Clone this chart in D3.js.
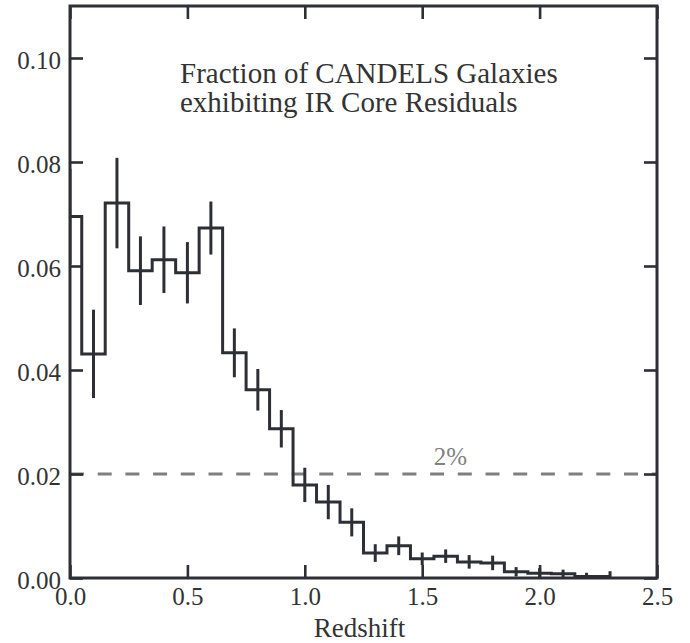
<!DOCTYPE html>
<html>
<head>
<meta charset="utf-8">
<script src="https://cdn.jsdelivr.net/npm/d3@7"></script>
<style>
  html, body { margin: 0; padding: 0; background: #fff; }
  svg { display: block; }
  text { font-family: "Liberation Serif", "Times New Roman", serif; }
</style>
</head>
<body>
<svg id="chart" width="690" height="643"></svg>
<script>
// ---- data ----
const binCenters = [0.0, 0.1, 0.2, 0.3, 0.4, 0.5, 0.6, 0.7, 0.8, 0.9, 1.0, 1.1,
                    1.2, 1.3, 1.4, 1.5, 1.6, 1.7, 1.8, 1.9, 2.0, 2.1, 2.2, 2.3];
const fractions  = [0.0695, 0.0431, 0.0721, 0.0591, 0.0612, 0.0587, 0.0673, 0.0433,
                    0.0362, 0.0287, 0.0179, 0.0146, 0.0107, 0.0048, 0.0062, 0.0037,
                    0.0042, 0.0031, 0.0029, 0.0012, 0.0009, 0.0008, 0.0003, 0.0003];
const errors     = [0.0092, 0.0085, 0.0087, 0.0066, 0.0064, 0.0059, 0.0051, 0.0047,
                    0.0040, 0.0036, 0.0033, 0.0033, 0.0027, 0.0017, 0.0018, 0.0012,
                    0.0013, 0.0013, 0.0014, 0.0009, 0.0010, 0.0008, 0.0007, 0.0010];
const binWidth = 0.1;
const xTicks = [0.0, 0.5, 1.0, 1.5, 2.0, 2.5];
const yTicks = [0.00, 0.02, 0.04, 0.06, 0.08, 0.10];
const thresholdValue = 0.02;
const thresholdLabel = "2%";
const thresholdLabelX = 1.62;
const titleLines = ["Fraction of CANDELS Galaxies", "exhibiting IR Core Residuals"];
const xLabel = "Redshift";

// ---- layout ----
const W = 690, H = 643;
const m = { left: 70, right: 33, top: 6, bottom: 65 };
const iw = W - m.left - m.right, ih = H - m.top - m.bottom;
const ink = "#2c2f36";

const svg = d3.select("#chart");
const g = svg.append("g").attr("transform", `translate(${m.left},${m.top})`);

const x = d3.scaleLinear().domain([0, 2.5]).range([0, iw]);
const y = d3.scaleLinear().domain([0, 0.11]).range([ih, 0]);

svg.append("defs").append("clipPath").attr("id", "clip")
  .append("rect").attr("x", 0).attr("y", 0).attr("width", iw).attr("height", ih);

// dashed threshold line
g.append("line")
  .attr("x1", x(0)).attr("x2", x(2.5))
  .attr("y1", y(thresholdValue)).attr("y2", y(thresholdValue))
  .attr("stroke", "#7f7f7f").attr("stroke-width", 3)
  .attr("stroke-dasharray", "14,13.7");

g.append("text")
  .attr("x", x(thresholdLabelX)).attr("y", y(thresholdValue) - 9)
  .attr("text-anchor", "middle")
  .attr("font-size", 25).attr("fill", "#808080")
  .text(thresholdLabel);

// histogram step line
const stepPts = [];
binCenters.forEach((c, i) => {
  const lo = c - binWidth / 2;
  const hi = i === binCenters.length - 1 ? c : c + binWidth / 2;
  stepPts.push([lo, fractions[i]]);
  stepPts.push([hi, fractions[i]]);
});
const line = d3.line().x(d => x(d[0])).y(d => y(d[1]));
const plot = g.append("g").attr("clip-path", "url(#clip)");
plot.append("path")
  .attr("d", line(stepPts))
  .attr("fill", "none").attr("stroke", ink)
  .attr("stroke-width", 3).attr("stroke-linejoin", "miter");

// error bars
plot.selectAll("line.err").data(binCenters).join("line")
  .attr("class", "err")
  .attr("x1", d => x(d)).attr("x2", d => x(d))
  .attr("y1", (d, i) => y(fractions[i] - errors[i]))
  .attr("y2", (d, i) => y(fractions[i] + errors[i]))
  .attr("stroke", ink).attr("stroke-width", 3);

// axes
const tickLen = 13;
const fmt2 = d3.format(".2f"), fmt1 = d3.format(".1f");
function styleAxis(sel) {
  sel.select(".domain").remove();
  sel.selectAll(".tick line").attr("stroke", ink).attr("stroke-width", 2.6);
  sel.selectAll(".tick text").attr("fill", "#333").attr("font-size", 25)
    .attr("font-family", "Liberation Serif, Times New Roman, serif");
}
g.append("g").attr("transform", `translate(0,${ih})`)
  .call(d3.axisBottom(x).tickValues(xTicks).tickFormat(fmt1).tickSizeInner(-tickLen).tickSizeOuter(0).tickPadding(9))
  .call(styleAxis);
g.append("g")
  .call(d3.axisTop(x).tickValues(xTicks).tickFormat("").tickSizeInner(-tickLen).tickSizeOuter(0))
  .call(styleAxis);
const yAx = g.append("g")
  .call(d3.axisLeft(y).tickValues(yTicks).tickFormat(fmt2).tickSizeInner(-tickLen).tickSizeOuter(0).tickPadding(9))
  .call(styleAxis);
yAx.selectAll(".tick text").attr("dy", "0.4em");
g.append("g").attr("transform", `translate(${iw},0)`)
  .call(d3.axisRight(y).tickValues(yTicks).tickFormat("").tickSizeInner(-tickLen).tickSizeOuter(0))
  .call(styleAxis);

// frame
g.append("rect").attr("x", 0).attr("y", 0).attr("width", iw).attr("height", ih)
  .attr("fill", "none").attr("stroke", ink).attr("stroke-width", 3);

// x label
g.append("text")
  .attr("x", iw / 2 - 4).attr("y", ih + 59)
  .attr("text-anchor", "middle").attr("font-size", 27).attr("fill", "#333")
  .text(xLabel);

// title
const t = g.append("text").attr("font-size", 29).attr("fill", "#333");
titleLines.forEach((s, i) => {
  t.append("tspan").attr("x", 110).attr("y", 77 + i * 29).text(s);
});
</script>
</body>
</html>
